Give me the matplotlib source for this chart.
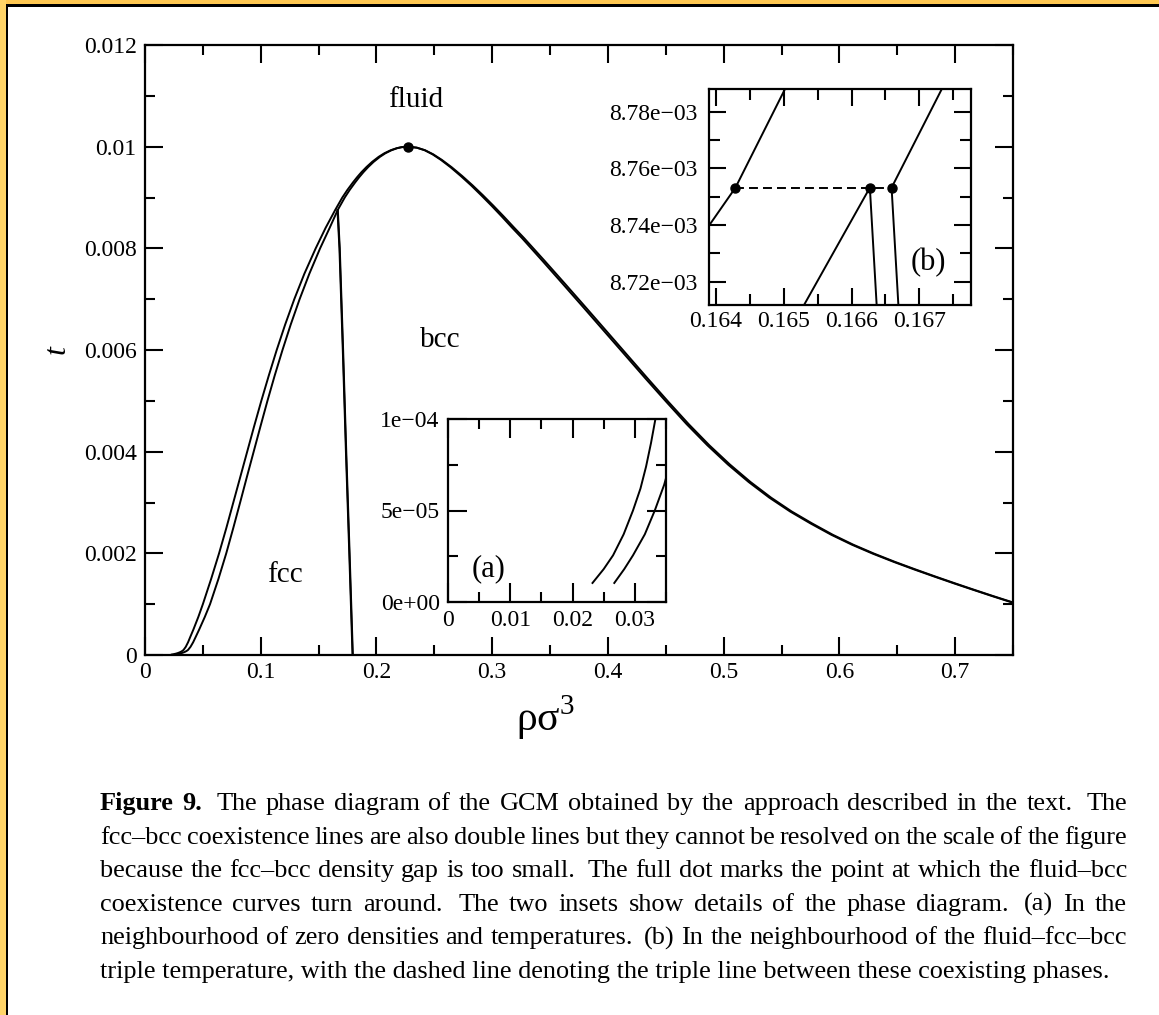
import matplotlib
matplotlib.use('Agg')
import matplotlib.pyplot as plt
from matplotlib.ticker import MultipleLocator, FuncFormatter
from matplotlib.patches import Rectangle

plt.rcParams['font.family'] = ['Liberation Serif', 'DejaVu Serif']
plt.rcParams['mathtext.fontset'] = 'custom'
plt.rcParams['mathtext.rm'] = 'Liberation Serif'

# fluid side of the coexistence curve, rising branch up to the turning point
t_fluid_up = [1.04e-5, 1.8e-5, 2.55e-5, 3.7e-5, 5.0e-5, 6.2e-5, 7.4e-5, 8.7e-5, 1.0e-4,
              1.6e-4, 2.5e-4, 3.6e-4, 5.0e-4, 7.5e-4, 0.0010, 0.0015, 0.0020, 0.0025,
              0.0030, 0.0035, 0.0040, 0.0045, 0.0050, 0.0055, 0.0060, 0.0065, 0.0070,
              0.0075, 0.0080, 0.0084, 0.008753, 0.0090, 0.00915, 0.0093, 0.0094, 0.0095,
              0.0096, 0.0097, 0.0098, 0.00987, 0.00993, 0.00997, 0.00999, 0.0100]
rho_fluid_up = [0.0232, 0.0250, 0.0265, 0.0282, 0.0297, 0.0309, 0.0318, 0.0326, 0.0333,
                0.0352, 0.0372, 0.0392, 0.0418, 0.0461, 0.0500, 0.0572, 0.0640, 0.0703,
                0.0763, 0.0823, 0.0883, 0.0943, 0.1005, 0.1070, 0.1138, 0.1211, 0.1290,
                0.1377, 0.1475, 0.1560, 0.1643, 0.1705, 0.1749, 0.1798, 0.1833, 0.1871,
                0.1914, 0.1962, 0.2019, 0.2068, 0.2123, 0.2175, 0.2216, 0.2273]

# solid side (fcc below the triple point, bcc above)
t_solid_up = [1.04e-5, 1.8e-5, 2.55e-5, 3.7e-5, 5.0e-5, 6.4e-5, 8.0e-5, 1.0e-4,
              1.6e-4, 2.5e-4, 3.6e-4, 5.0e-4, 7.5e-4, 0.0010, 0.0015, 0.0020, 0.0025,
              0.0030, 0.0035, 0.0040, 0.0045, 0.0050, 0.0055, 0.0060, 0.0065, 0.0070,
              0.0075, 0.0080, 0.0084, 0.008753, 0.0090, 0.00915, 0.0093, 0.0094, 0.0095,
              0.0096, 0.0097, 0.0098, 0.00987, 0.00993, 0.00997, 0.00999, 0.0100]
rho_solid_up = [0.0267, 0.0283, 0.0297, 0.0316, 0.0332, 0.0347, 0.0360, 0.0372,
                0.0393, 0.0416, 0.0439, 0.0468, 0.0517, 0.0562, 0.0635, 0.0702, 0.0763,
                0.0822, 0.0880, 0.0939, 0.0998, 0.1058, 0.1121, 0.1188, 0.1259, 0.1336,
                0.1420, 0.1513, 0.1595, 0.1665, 0.1726, 0.1769, 0.1817, 0.1851, 0.1888,
                0.1929, 0.1975, 0.2030, 0.2077, 0.2130, 0.2179, 0.2218, 0.2273]

# re-entrant branch past the turning point (fluid and bcc sides almost on top of each other)
t_down = [0.01000, 0.00998, 0.00993, 0.00985, 0.00974, 0.009595, 0.009424, 0.00924,
          0.009044, 0.008839, 0.008626, 0.008406, 0.00820, 0.007751, 0.007295, 0.006834,
          0.006372, 0.005906, 0.005441, 0.004986, 0.004541, 0.004126, 0.003747, 0.003403,
          0.003095, 0.002823, 0.002586, 0.002365, 0.002170, 0.001994, 0.001832, 0.001685,
          0.001543, 0.001409, 0.001286, 0.001158, 0.001034]
rho_down_fluid = [0.2273, 0.2350, 0.2420, 0.2490, 0.2565, 0.2650, 0.2740, 0.2830, 0.2920,
                  0.3010, 0.3100, 0.3190, 0.3276, 0.3454, 0.3632, 0.3810, 0.3987, 0.4165,
                  0.4343, 0.4520, 0.4698, 0.4876, 0.5054, 0.5232, 0.5410, 0.5588, 0.5766,
                  0.5943, 0.6120, 0.6300, 0.6480, 0.6655, 0.6830, 0.7000, 0.7160, 0.7330,
                  0.7500]
rho_down_bcc = [0.2273, 0.2348, 0.2416, 0.2484, 0.2557, 0.2640, 0.2728, 0.2817, 0.2905,
                0.2994, 0.3083, 0.3172, 0.3258, 0.3435, 0.3612, 0.3790, 0.3967, 0.4146,
                0.4324, 0.4502, 0.4680, 0.4859, 0.5037, 0.5216, 0.5395, 0.5574, 0.5752,
                0.5930, 0.6108, 0.6288, 0.6469, 0.6644, 0.6820, 0.6990, 0.7151, 0.7321,
                0.7491]

# fcc-bcc coexistence lines
t_fb = [0.008753, 0.008, 0.006, 0.004, 0.002, 0.0]
rho_fb_fcc = [0.1663, 0.1680, 0.1709, 0.1736, 0.1765, 0.1793]
rho_fb_bcc = [0.1666, 0.1683, 0.1712, 0.1739, 0.1768, 0.1796]

turn_rho, turn_t = 0.2273, 0.0100

# inset (b): neighbourhood of the triple point
b_fluid_rho = [0.1639, 0.16429, 0.16502]
b_fluid_t = [8.7398e-3, 8.7532e-3, 8.788e-3]
b_fcc_rho = [0.16530, 0.16627]
b_fcc_t = [8.7118e-3, 8.7532e-3]
b_fb_fcc_rho = [0.16627, 0.16637]
b_fb_bcc_rho = [0.16659, 0.16669]
b_fb_t = [8.7532e-3, 8.7118e-3]
b_bcc_rho = [0.16659, 0.16733]
b_bcc_t = [8.7532e-3, 8.788e-3]
triple_t = 8.7532e-3
triple_rho = [0.16429, 0.16627, 0.16659]

caption_lines = [
    "Figure 9.  The phase diagram of the GCM obtained by the approach described in the text.  The",
    "fcc\u2013bcc coexistence lines are also double lines but they cannot be resolved on the scale of the figure",
    "because the fcc\u2013bcc density gap is too small.  The full dot marks the point at which the fluid\u2013bcc",
    "coexistence curves turn around.  The two insets show details of the phase diagram.  (a) In the",
    "neighbourhood of zero densities and temperatures. (b) In the neighbourhood of the fluid\u2013fcc\u2013bcc",
    "triple temperature, with the dashed line denoting the triple line between these coexisting phases.",
]

W, H = 1159, 1015
fig = plt.figure(figsize=(W / 100, H / 100), dpi=100)
fig.patch.set_facecolor('white')


def px_axes(left, top, right, bottom):
    return fig.add_axes([left / W, 1 - bottom / H, (right - left) / W, (bottom - top) / H])


def style(ax, major=13, minor=7, xpad=5, ypad=6):
    for s in ax.spines.values():
        s.set_linewidth(1.6)
    ax.tick_params(which='both', direction='in', top=True, right=True, width=1.5,
                   labelsize=17, colors='black')
    ax.tick_params(which='major', length=major)
    ax.tick_params(which='minor', length=minor)
    ax.tick_params(axis='x', pad=xpad)
    ax.tick_params(axis='y', pad=ypad)


g = FuncFormatter(lambda v, p: ('%g' % round(v, 6)))
sci0 = FuncFormatter(lambda v, p: ('%.0e' % v).replace('-', '\u2212'))
sci2 = FuncFormatter(lambda v, p: ('%.2e' % v).replace('-', '\u2212'))

lw = 1.4
# main diagram
ax = px_axes(145, 45, 1013, 655)
ax.plot(rho_fluid_up, t_fluid_up, color='black', lw=lw)
ax.plot(rho_solid_up, t_solid_up, color='black', lw=lw)
ax.plot(rho_down_fluid, t_down, color='black', lw=lw)
ax.plot(rho_down_bcc, t_down, color='black', lw=lw)
ax.plot(rho_fb_fcc, t_fb, color='black', lw=lw)
ax.plot(rho_fb_bcc, t_fb, color='black', lw=lw)
ax.plot([turn_rho], [turn_t], 'o', color='black', ms=6.5)
ax.set_xlim(0, 0.75)
ax.set_ylim(0, 0.012)
ax.xaxis.set_major_locator(MultipleLocator(0.1))
ax.xaxis.set_minor_locator(MultipleLocator(0.05))
ax.yaxis.set_major_locator(MultipleLocator(0.002))
ax.yaxis.set_minor_locator(MultipleLocator(0.001))
ax.xaxis.set_major_formatter(g)
ax.yaxis.set_major_formatter(g)
style(ax)
ax.text(0.2334, 0.01091, 'fluid', fontsize=21, ha='center', va='center')
ax.text(0.255, 0.0062, 'bcc', fontsize=21, ha='center', va='center')
ax.text(0.121, 0.00157, 'fcc', fontsize=21, ha='center', va='center')
fig.text(57 / W, 1 - 350 / H, 't', fontsize=23, style='italic', rotation=90,
         ha='center', va='center')
fig.text(545 / W, 1 - 718 / H, '\u03c1\u03c3$^{3}$', fontsize=30, ha='center', va='center')

# inset (a)
axa = px_axes(448, 419, 666, 602)
axa.plot(rho_fluid_up, t_fluid_up, color='black', lw=lw)
axa.plot(rho_solid_up, t_solid_up, color='black', lw=lw)
axa.set_xlim(0, 0.035)
axa.set_ylim(0, 1e-4)
axa.xaxis.set_major_locator(MultipleLocator(0.01))
axa.xaxis.set_minor_locator(MultipleLocator(0.005))
axa.yaxis.set_major_locator(MultipleLocator(5e-5))
axa.yaxis.set_minor_locator(MultipleLocator(2.5e-5))
axa.xaxis.set_major_formatter(g)
axa.yaxis.set_major_formatter(sci0)
style(axa, major=14, minor=7, xpad=6)
axa.text(0.0065, 1.84e-5, '(a)', fontsize=22, ha='center', va='center')

# inset (b)
axb = px_axes(709, 89, 971, 305)
axb.plot(b_fluid_rho, b_fluid_t, color='black', lw=lw)
axb.plot(b_fcc_rho, b_fcc_t, color='black', lw=lw)
axb.plot(b_fb_fcc_rho, b_fb_t, color='black', lw=lw)
axb.plot(b_fb_bcc_rho, b_fb_t, color='black', lw=lw)
axb.plot(b_bcc_rho, b_bcc_t, color='black', lw=lw)
axb.plot([triple_rho[0], triple_rho[-1]], [triple_t, triple_t], color='black', lw=lw,
         dashes=(4.6, 2.6))
axb.plot(triple_rho, [triple_t] * len(triple_rho), 'o', color='black', ms=6.5)
axb.set_xlim(0.1639, 0.16776)
axb.set_ylim(8.7118e-3, 8.788e-3)
axb.xaxis.set_major_locator(MultipleLocator(0.001))
axb.xaxis.set_minor_locator(MultipleLocator(0.0005))
axb.yaxis.set_major_locator(MultipleLocator(2e-5))
axb.yaxis.set_minor_locator(MultipleLocator(1e-5))
axb.xaxis.set_major_formatter(g)
axb.yaxis.set_major_formatter(sci2)
style(axb, major=12, minor=8, xpad=4, ypad=8)
axb.text(0.16713, 8.7266e-3, '(b)', fontsize=22, ha='center', va='center')

# caption, justified like the printed page
r = fig.canvas.get_renderer()
probe = fig.text(0, 0, caption_lines[-1], fontsize=18)
cap_fs = 18 * 1012 / probe.get_window_extent(r).width
probe.remove()
x0, x1 = 100, 1127
for i, line in enumerate(caption_lines):
    y = 1 - (810 + i * 33.6) / H
    if i == len(caption_lines) - 1:
        fig.text(x0 / W, y, line, fontsize=cap_fs, va='baseline')
        continue
    words = line.split()
    items = []
    for j, word in enumerate(words):
        bold = i == 0 and j < 2
        t = fig.text(0, y, word, fontsize=cap_fs, va='baseline',
                     fontweight='bold' if bold else 'normal')
        items.append((t, t.get_window_extent(r).width, word.endswith('.')))
    weights = [1.6 if it[2] else 1.0 for it in items[:-1]]
    gap = (x1 - x0 - sum(it[1] for it in items)) / sum(weights)
    x = x0
    for k, (t, w, _) in enumerate(items):
        t.set_x(x / W)
        if k < len(weights):
            x += w + gap * weights[k]

# page frame
fig.add_artist(Rectangle((0, 1 - 4.5 / H), 1, 4.5 / H, transform=fig.transFigure,
                         color='#FFC852', lw=0))
fig.add_artist(Rectangle((0, 0), 5.5 / W, 1, transform=fig.transFigure,
                         color='#FFD468', lw=0))
fig.add_artist(Rectangle((5.5 / W, 1 - 6.5 / H), 1, 2 / H, transform=fig.transFigure,
                         color='black', lw=0))
fig.add_artist(Rectangle((5.5 / W, 0), 2 / W, 1 - 4.5 / H, transform=fig.transFigure,
                         color='black', lw=0))

fig.savefig('out.png', dpi=100)
